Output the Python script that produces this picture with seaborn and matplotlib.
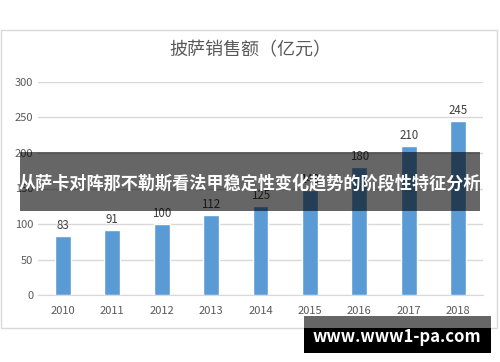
import matplotlib
matplotlib.use("Agg")
import matplotlib.pyplot as plt
import seaborn as sns
import pandas as pd
from matplotlib.patches import Rectangle

years = ["2010", "2011", "2012", "2013", "2014", "2015", "2016", "2017", "2018"]
sales = [83, 91, 100, 112, 125, 148, 180, 210, 245]
yticks = [0, 50, 100, 150, 200, 250, 300]
title = "披萨销售额（亿元）"
banner = "从萨卡对阵那不勒斯看法甲稳定性变化趋势的阶段性特征分析"
watermark = "www.www1-pa.com"

sns.set_style("white")
plt.rcParams['font.family'] = ['Noto Sans CJK SC', 'DejaVu Sans']

df = pd.DataFrame({"year": years, "sales": sales})

fig = plt.figure(figsize=(5, 3.62), dpi=100)
W, H = 500, 362

def fx(px):
    return px / W

def fy(py):
    return 1 - py / H

# chart frame
fig.patches.append(Rectangle((fx(1), fy(328)), fx(497) - fx(1), fy(30) - fy(328),
                             transform=fig.transFigure, fill=False,
                             edgecolor="#d9d9d9", linewidth=1, zorder=0))

ax = fig.add_axes([fx(38), fy(295), fx(483) - fx(38), fy(82) - fy(295)])
sns.barplot(data=df, x="year", y="sales", color="#5B9BD5", width=0.32,
            saturation=1, ax=ax, zorder=3)
ax.set_xlim(-0.5, 8.5)
ax.set_ylim(0, 300)
ax.set_yticks(yticks)
ax.yaxis.grid(True, color="#d9d9d9", linewidth=1, zorder=0)
ax.set_axisbelow(True)
for s in ["top", "right", "left"]:
    ax.spines[s].set_visible(False)
ax.spines["bottom"].set_color("#d9d9d9")
ax.tick_params(axis="both", length=0, labelsize=8, labelcolor="#595959")
ax.tick_params(axis="x", pad=8)
ax.set_xlabel("")
ax.set_ylabel("")
for i, v in enumerate(sales):
    ax.text(i, v + 6, str(v), ha="center", va="bottom", fontsize=8.3, color="#404040")

fig.text(0.5, fy(50), title, ha="center", va="center", fontsize=13, color="#595959")

# overlay banner
fig.patches.append(Rectangle((fx(20), fy(211)), fx(480) - fx(20), fy(152) - fy(211),
                             transform=fig.transFigure, facecolor="black", alpha=0.6,
                             edgecolor="none", zorder=10))
fig.text(0.5, fy(183), banner, ha="center", va="center", fontsize=12.3,
         fontweight="bold", color="white", zorder=11)

# watermark
fig.patches.append(Rectangle((fx(304), fy(328)), fx(491) - fx(304), fy(316) - fy(328),
                             transform=fig.transFigure, facecolor="#666666",
                             edgecolor="none", zorder=10))
fig.patches.append(Rectangle((fx(304), fy(353)), fx(491) - fx(304), fy(328) - fy(353),
                             transform=fig.transFigure, facecolor="black",
                             edgecolor="none", zorder=10))
fig.text(fx(397), fy(337), watermark, ha="center", va="center", fontsize=12,
         fontweight="bold", color="white", zorder=11)

fig.savefig("out.png", dpi=100)
